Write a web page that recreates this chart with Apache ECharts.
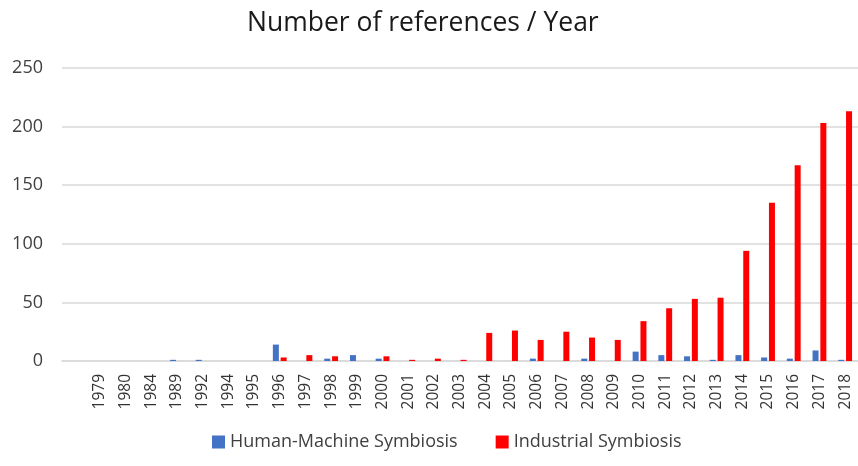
<!DOCTYPE html>
<html>
<head>
<meta charset="utf-8">
<script src="https://cdn.jsdelivr.net/npm/echarts@6/dist/echarts.min.js"></script>
<style>
html,body{margin:0;padding:0;background:#fff;}
#chart{width:858px;height:466px;}
</style>
</head>
<body>
<div id="chart"></div>
<script>
const categories = ['1979','1980','1984','1989','1992','1994','1995','1996','1997','1998','1999','2000','2001','2002','2003','2004','2005','2006','2007','2008','2009','2010','2011','2012','2013','2014','2015','2016','2017','2018'];
const humanMachine = [0,0,0,1,1,0,0,14,0,2,5,2,0,0,0,0,0,2,0,2,0,8,5,4,1,5,3,2,9,1];
const industrial = [0,0,0,0,0,0,0,3,5,4,0,4,1,2,1,24,26,18,25,20,18,34,45,53,54,94,135,167,203,213];
const yTicks = {min: 0, max: 250, interval: 50};
const seriesNames = ['Human-Machine Symbiosis', 'Industrial Symbiosis'];
const titleText = 'Number of references / Year';

const FONT = '"Open Sans", "Noto Sans", sans-serif';
const chart = echarts.init(document.getElementById('chart'), null, {renderer: 'canvas'});
chart.setOption({
  animation: false,
  backgroundColor: '#ffffff',
  title: {
    text: titleText,
    left: 242, top: 5,
    textStyle: {fontFamily: FONT, fontSize: 26.5, fontWeight: 'normal', color: '#1a1a1a'}
  },
  legend: {
    data: seriesNames,
    left: 207, top: 428,
    itemWidth: 13, itemHeight: 13, itemGap: 38,
    icon: 'rect',
    textStyle: {fontFamily: FONT, fontSize: 18, color: '#404040'}
  },
  grid: [
    {left: 87, width: 774, top: 68, height: 293},
    {left: 62, right: 0, top: 68, height: 293}
  ],
  xAxis: [
    {
      gridIndex: 0, type: 'category', data: categories, boundaryGap: true,
      axisLine: {show: false}, axisTick: {show: false},
      axisLabel: {rotate: 90, interval: 0, margin: 13, fontFamily: FONT, fontSize: 15.5, color: '#333333'}
    },
    {
      gridIndex: 1, type: 'value', min: 0, max: 1,
      axisLine: {show: true, lineStyle: {color: '#d9d9d9', width: 1.5}},
      axisTick: {show: false}, axisLabel: {show: false}, splitLine: {show: false}
    }
  ],
  yAxis: [
    {gridIndex: 0, type: 'value', min: yTicks.min, max: yTicks.max, interval: yTicks.interval, show: false},
    {
      gridIndex: 1, type: 'value', min: yTicks.min, max: yTicks.max, interval: yTicks.interval,
      axisLine: {show: false}, axisTick: {show: false},
      axisLabel: {margin: 19, fontFamily: FONT, fontSize: 18, color: '#404040'},
      splitLine: {show: true, lineStyle: {color: '#d9d9d9', width: 1.5}}
    }
  ],
  series: [
    {name: seriesNames[0], type: 'bar', xAxisIndex: 0, yAxisIndex: 0, data: humanMachine,
     barWidth: 6, barGap: '30%', itemStyle: {color: '#4472C4'}},
    {name: seriesNames[1], type: 'bar', xAxisIndex: 0, yAxisIndex: 0, data: industrial,
     barWidth: 6, barGap: '30%', itemStyle: {color: '#FF0000'}}
  ]
});
</script>
</body>
</html>
